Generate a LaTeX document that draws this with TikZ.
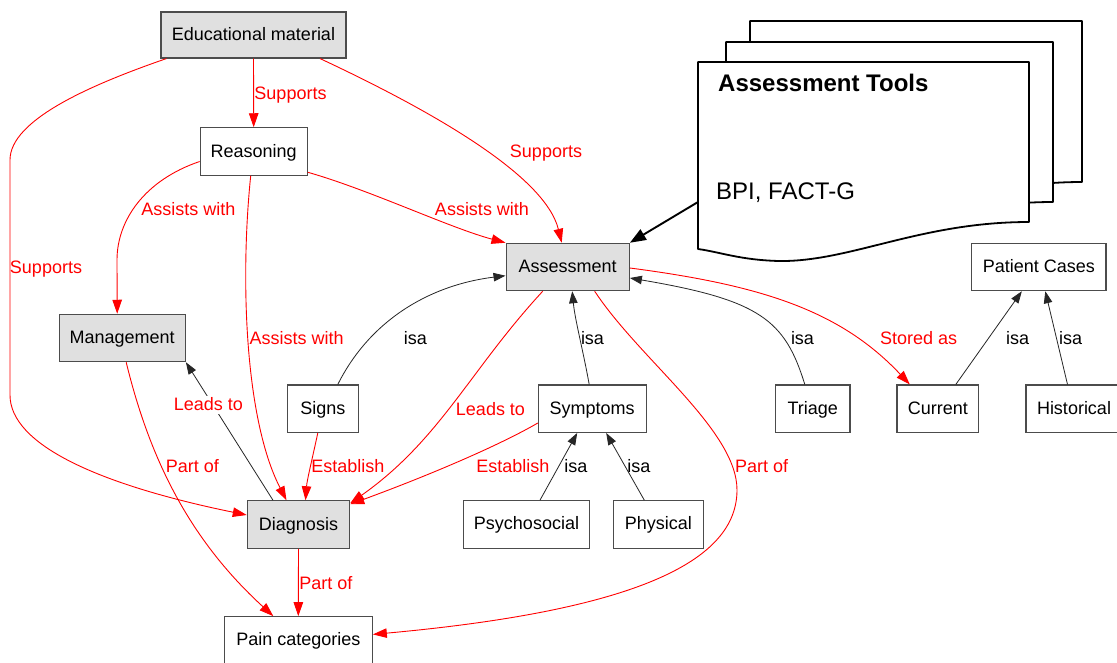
\documentclass[tikz,border=0pt]{standalone}
\usepackage{fontspec}
\setmainfont{Liberation Sans}
\usetikzlibrary{arrows.meta}
\definecolor{boxgray}{HTML}{E0E0E0}
\begin{document}
\begin{tikzpicture}[x=1pt,y=-1pt,
  box/.style={draw=black!70, line width=1.1pt, minimum height=47.4pt, inner sep=0pt,
    font=\fontsize{18}{21}\selectfont, text height=13.5pt, text depth=2.5pt},
  gbox/.style={box, fill=boxgray},
  wbox/.style={box, fill=white},
  redge/.style={draw=red, line width=0.9pt, -{Triangle[length=14pt,width=9.5pt]}},
  bedge/.style={draw=black!85, line width=0.8pt, -{Triangle[length=12pt,width=8.5pt]}},
  docedge/.style={draw=black, line width=1.9pt, -{Triangle[length=16pt,width=12pt]}},
  docpage/.style={draw=black, fill=white, line width=1.8pt, line join=round},
  rlab/.style={text=red, font=\fontsize{18}{21}\selectfont, inner sep=1pt, text height=13.5pt, text depth=2.5pt},
  blab/.style={rlab, text=black},
]
\useasboundingbox (0,0) rectangle (1117,662);
\fill[white] (0,0) rectangle (1117,662);

% document stack
\filldraw[docpage] (750,21) -- (1082,21) -- (1082,182) .. controls (973,182) and (903,222) .. (833,220) .. controls (793,219) and (772,212) .. (750,209) -- cycle;
\filldraw[docpage] (726,42) -- (1053,42) -- (1053,202) .. controls (944,202) and (874,242) .. (804,240) .. controls (764,239) and (748,232) .. (726,229) -- cycle;
\filldraw[docpage] (698,62) -- (1029,62) -- (1029,222) .. controls (920,222) and (850,262) .. (779,261) .. controls (740,260) and (720,252) .. (698,249) -- cycle;
\node[anchor=base west, inner sep=0pt, font=\bfseries\fontsize{24}{28}\selectfont] (doctitle) at (718,91) {Assessment Tools};
\node[anchor=base west, inner sep=0pt, font=\fontsize{24}{28}\selectfont] (doctext) at (716,199) {BPI, FACT-G};
\coordinate (docport) at (698,202);

% nodes
\node[gbox, minimum width=185pt, minimum height=46pt] (edu) at (253.5,35) {Educational material};
\node[wbox, minimum width=107pt] (reas) at (253.7,151.5) {Reasoning};
\node[gbox, minimum width=123.3pt] (asm) at (567.7,267) {Assessment};
\node[gbox, minimum width=126.3pt] (mgmt) at (122.2,338) {Management};
\node[wbox, minimum width=71pt] (signs) at (322.8,408.7) {Signs};
\node[wbox, minimum width=107.7pt] (symp) at (592.2,408.7) {Symptoms};
\node[wbox, minimum width=74.3pt] (triage) at (812.8,408.7) {Triage};
\node[wbox, minimum width=81.7pt] (current) at (937.8,408.7) {Current};
\node[wbox, minimum width=96pt] (hist) at (1074,408.7) {Historical};
\node[wbox, minimum width=134.3pt] (pc) at (1038.8,267) {Patient Cases};
\node[gbox, minimum width=102.4pt] (diag) at (298.5,524.5) {Diagnosis};
\node[wbox, minimum width=126.4pt] (psy) at (526.5,524.4) {Psychosocial};
\node[wbox, minimum width=90pt] (phys) at (658.3,524.4) {Physical};
\node[wbox, minimum width=148pt] (pain) at (298.3,640.4) {Pain categories};

% red edges
\draw[redge] (edu.south) -- (reas.north)
  node[rlab] at (290.5,94) {Supports};
\draw[redge] ([xshift=66.5pt]edu.south) .. controls (430,110) and (545,175) .. ([xshift=-6pt]asm.north)
  node[rlab] at (546,152) {Supports};
\draw[redge] ([xshift=-87pt]edu.south) .. controls (90,85) and (10,120) .. (10,160) -- (10,395)
  .. controls (10,445) and (100,485) .. ([yshift=9.5pt]diag.west)
  node[rlab] at (46,268) {Supports};
\draw[redge] ([yshift=-10pt]reas.west) .. controls (145,180) and (117,220) .. (117,260) -- ([xshift=-5pt]mgmt.north)
  node[rlab] at (188.5,210) {Assists with};
\draw[redge] ([xshift=-3pt]reas.south) .. controls (240,280) and (245,420) .. ([xshift=-12pt]diag.north)
  node[rlab] at (296.7,339) {Assists with};
\draw[redge] ([yshift=3.5pt]reas.south east) .. controls (370,190) and (450,228) .. (asm.north west)
  node[rlab] at (482,209.5) {Assists with};
\draw[redge] ([xshift=-25pt]asm.south) .. controls (470,370) and (440,440) .. ([yshift=-3pt]diag.north east)
  node[rlab] at (490.5,410) {Leads to};
\draw[redge] ([xshift=27pt]asm.south) .. controls (640,360) and (737,430) .. (737,490)
  .. controls (737,560) and (640,610) .. ([yshift=6pt]pain.east)
  node[rlab] at (761.7,467) {Part of};
\draw[redge] ([yshift=-1pt]asm.east) .. controls (760,285) and (840,310) .. ([xshift=-28pt]current.north)
  node[rlab] at (918.7,339) {Stored as};
\draw[redge] ([xshift=4pt]mgmt.south) .. controls (150,460) and (190,540) .. ([xshift=-25pt]pain.north)
  node[rlab] at (192.3,467) {Part of};
\draw[redge] ([xshift=-5pt]signs.south) .. controls (312,460) and (307,480) .. ([xshift=7pt]diag.north)
  node[rlab] at (347.8,467) {Establish};
\draw[redge] ([yshift=-14.3pt]symp.west) .. controls (500,445) and (430,475) .. ([yshift=-4pt]diag.north east)
  node[rlab] at (512.8,467) {Establish};
\draw[redge] (diag.south) -- (pain.north)
  node[rlab] at (325.8,583.5) {Part of};

% black edges
\draw[bedge] ([xshift=-25.5pt]diag.north) -- (mgmt.south east)
  node[rlab, fill=white] at (208.3,405) {Leads to};
\draw[bedge] ([xshift=15pt]signs.north) .. controls (370,320) and (430,285) .. ([yshift=-8.7pt]asm.west)
  node[blab] at (415.5,339) {isa};
\draw[bedge] ([xshift=-3pt]symp.north) .. controls (583,350) and (575,320) .. ([xshift=4.5pt]asm.south)
  node[blab] at (592.5,339) {isa};
\draw[bedge] ([xshift=-8pt]triage.north) .. controls (785,320) and (760,300) .. ([yshift=-11pt]asm.east)
  node[blab] at (802.5,339) {isa};
\draw[bedge] ([xshift=13.5pt]psy.north) -- ([xshift=-15pt]symp.south)
  node[blab] at (575.8,467) {isa};
\draw[bedge] ([xshift=-14pt]phys.north) -- ([xshift=14pt]symp.south)
  node[blab] at (638.8,467) {isa};
\draw[bedge] ([xshift=18pt]current.north) -- ([xshift=-17pt]pc.south)
  node[blab] at (1017.5,339) {isa};
\draw[bedge] ([xshift=-6.5pt]hist.north) -- ([xshift=6.5pt]pc.south)
  node[blab] at (1070.5,339) {isa};
\draw[docedge] (docport) -- (asm.north east);
\end{tikzpicture}
\end{document}
